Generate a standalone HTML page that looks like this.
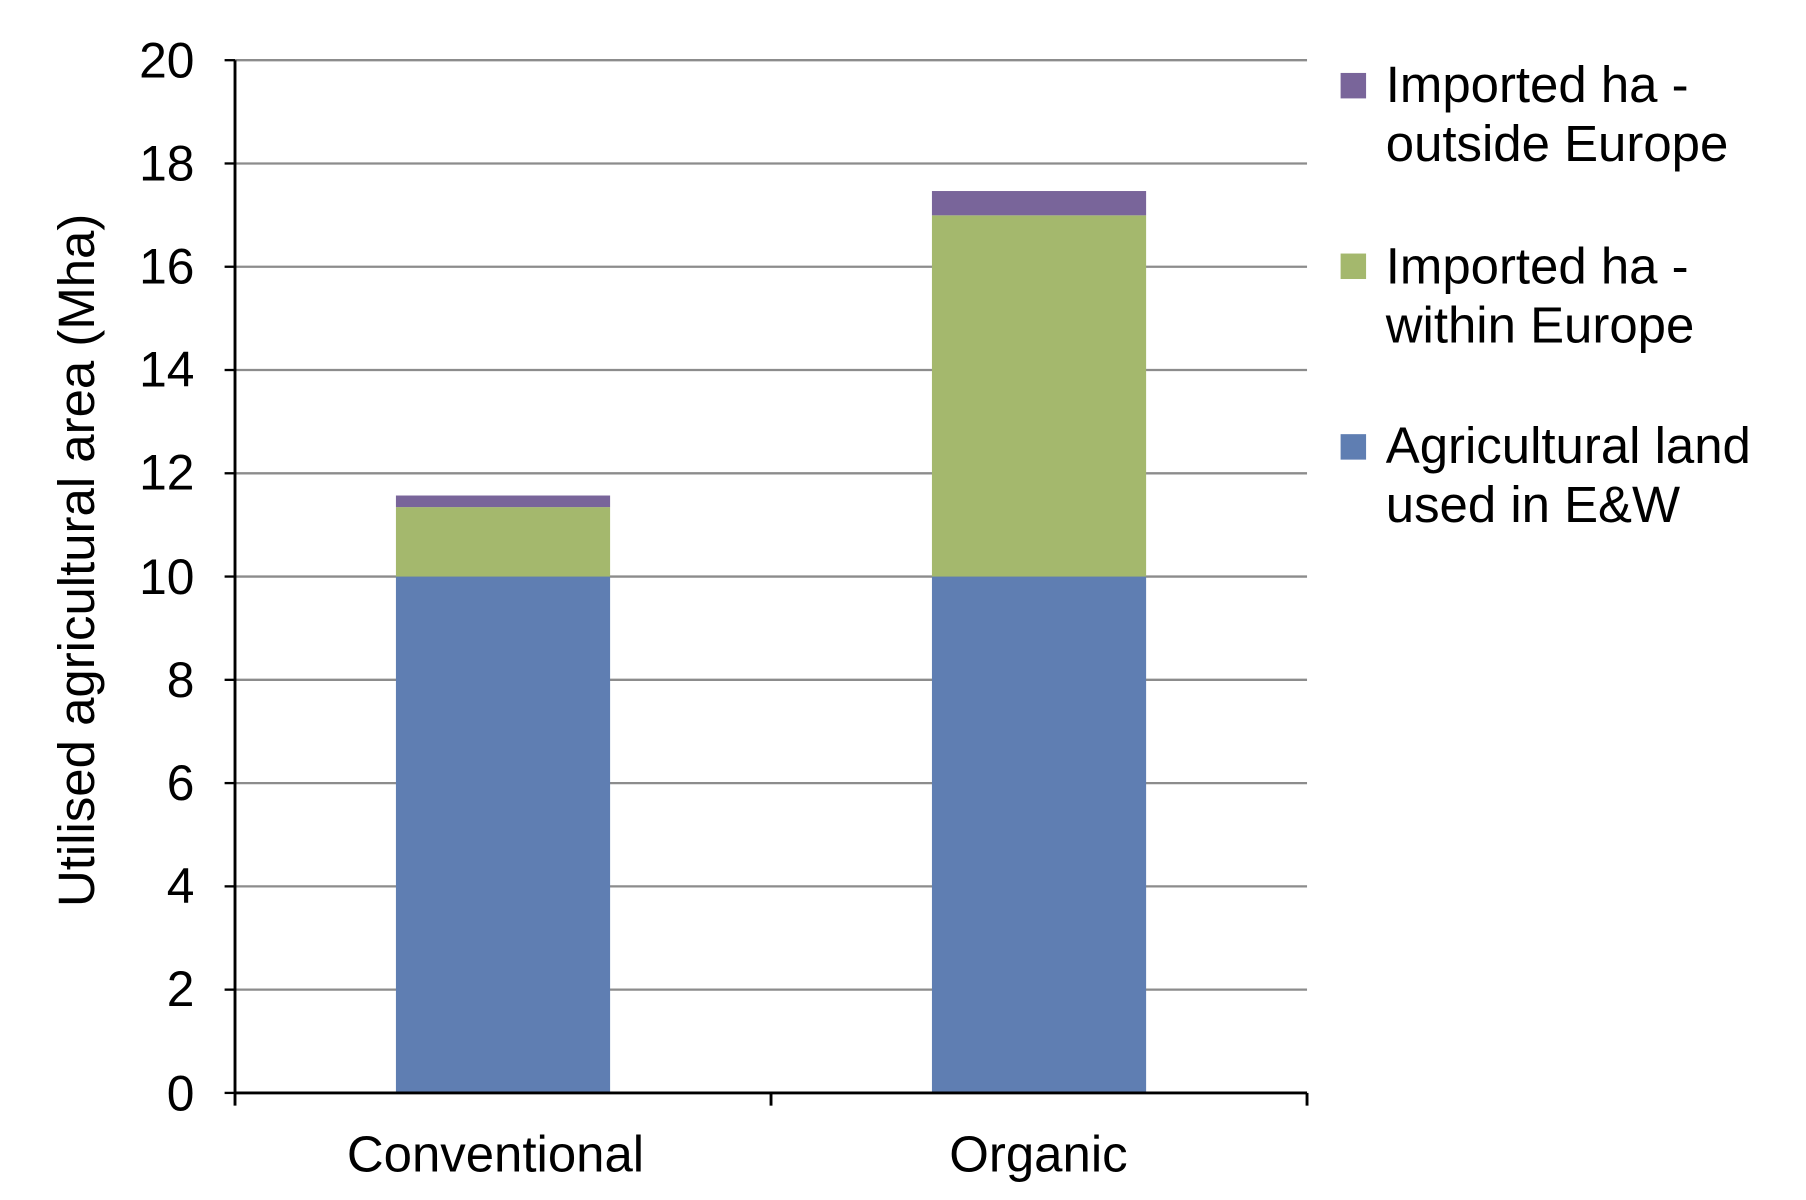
<!DOCTYPE html>
<html><head><style>html,body{margin:0;padding:0;background:#fff;width:1806px;height:1200px;overflow:hidden}</style></head>
<body>
<svg width="1806" height="1200" viewBox="0 0 1560 1036.5" preserveAspectRatio="none" xmlns="http://www.w3.org/2000/svg" font-family="Liberation Sans, Arial, sans-serif">
<g stroke="#8c8c8c" stroke-width="2">
<line x1="203" y1="52" x2="1129" y2="52"/>
<line x1="203" y1="141.2" x2="1129" y2="141.2"/>
<line x1="203" y1="230.4" x2="1129" y2="230.4"/>
<line x1="203" y1="319.6" x2="1129" y2="319.6"/>
<line x1="203" y1="408.8" x2="1129" y2="408.8"/>
<line x1="203" y1="498" x2="1129" y2="498"/>
<line x1="203" y1="587.2" x2="1129" y2="587.2"/>
<line x1="203" y1="676.4" x2="1129" y2="676.4"/>
<line x1="203" y1="765.6" x2="1129" y2="765.6"/>
<line x1="203" y1="854.8" x2="1129" y2="854.8"/>
</g>
<rect x="342" y="498" width="185" height="446" fill="#5f7eb2"/>
<rect x="342" y="438" width="185" height="60" fill="#a4b86d"/>
<rect x="342" y="428" width="185" height="10" fill="#79659a"/>
<rect x="805" y="498" width="185" height="446" fill="#5f7eb2"/>
<rect x="805" y="186" width="185" height="312" fill="#a4b86d"/>
<rect x="805" y="165" width="185" height="21" fill="#79659a"/>
<g stroke="#000" stroke-width="2.5">
<line x1="203" y1="52" x2="203" y2="955"/>
<line x1="203" y1="944" x2="1129" y2="944"/>
<line x1="666" y1="944" x2="666" y2="955"/>
<line x1="1129" y1="944" x2="1129" y2="955"/>
<g stroke-width="2">
<line x1="194" y1="52" x2="203" y2="52"/><line x1="194" y1="141.2" x2="203" y2="141.2"/><line x1="194" y1="230.4" x2="203" y2="230.4"/><line x1="194" y1="319.6" x2="203" y2="319.6"/><line x1="194" y1="408.8" x2="203" y2="408.8"/><line x1="194" y1="498" x2="203" y2="498"/><line x1="194" y1="587.2" x2="203" y2="587.2"/><line x1="194" y1="676.4" x2="203" y2="676.4"/><line x1="194" y1="765.6" x2="203" y2="765.6"/><line x1="194" y1="854.8" x2="203" y2="854.8"/><line x1="194" y1="944" x2="203" y2="944"/>
</g></g>
<g font-size="43" text-anchor="end" fill="#000">
<text x="168" y="67">20</text><text x="168" y="156">18</text><text x="168" y="245">16</text><text x="168" y="334">14</text><text x="168" y="423">12</text><text x="168" y="513">10</text><text x="168" y="602">8</text><text x="168" y="691">6</text><text x="168" y="780">4</text><text x="168" y="869">2</text><text x="168" y="959">0</text>
</g>
<text transform="translate(81,484) rotate(-90)" font-size="44" text-anchor="middle">Utilised  agricultural area (Mha)</text>
<g font-size="44" text-anchor="middle"><text x="428" y="1012">Conventional</text><text x="897" y="1012">Organic</text></g>
<rect x="1158" y="63" width="22" height="22" fill="#79659a"/>
<rect x="1158" y="219" width="22" height="22" fill="#a4b86d"/>
<rect x="1158" y="375" width="22" height="22" fill="#5f7eb2"/>
<g font-size="44">
<text x="1197" y="88">Imported ha -</text><text x="1197" y="139">outside Europe</text>
<text x="1197" y="245">Imported ha -</text><text x="1197" y="296">within Europe</text>
<text x="1197" y="400">Agricultural land</text><text x="1197" y="451">used in E&amp;W</text>
</g>
</svg>
</body></html>
